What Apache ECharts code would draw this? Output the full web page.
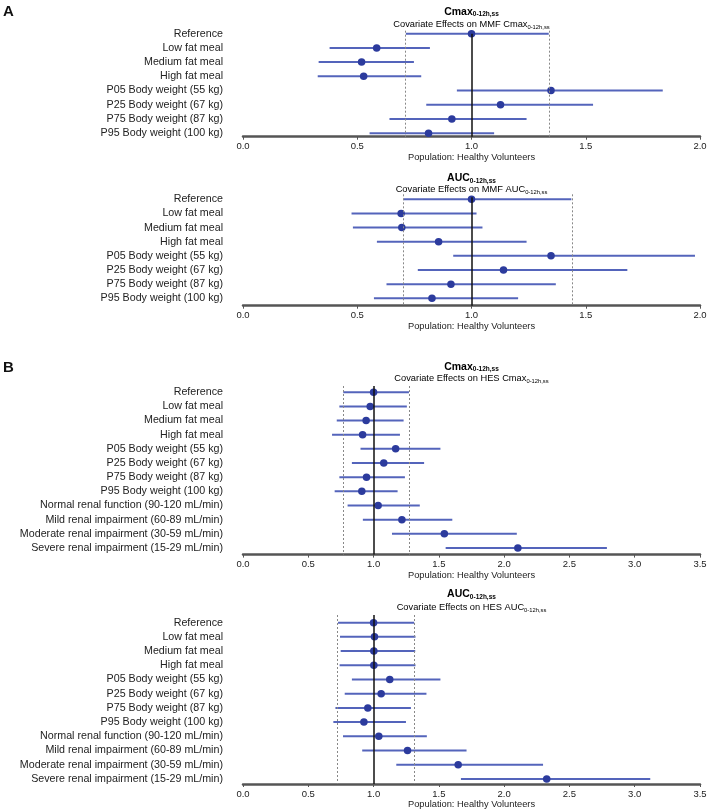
<!DOCTYPE html>
<html>
<head>
<meta charset="utf-8">
<script src="https://cdn.jsdelivr.net/npm/echarts@6/dist/echarts.min.js"></script>
<style>
  html, body { margin: 0; padding: 0; background: #fff; }
  #chart { width: 709px; height: 811px; }
</style>
</head>
<body>
<div id="chart"></div>
<script>
// row labels
const foodWeightLabels = ['Reference', 'Low fat meal', 'Medium fat meal', 'High fat meal',
  'P05 Body weight (55 kg)', 'P25 Body weight (67 kg)', 'P75 Body weight (87 kg)', 'P95 Body weight (100 kg)'];
const renalLabels = ['Normal renal function (90-120 mL/min)', 'Mild renal impairment (60-89 mL/min)',
  'Moderate renal impairment (30-59 mL/min)', 'Severe renal impairment (15-29 mL/min)'];
const hesLabels = foodWeightLabels.concat(renalLabels);

// tick labels
const xTicksA = [0, 0.5, 1, 1.5, 2];
const xTicksB = [0, 0.5, 1, 1.5, 2, 2.5, 3, 3.5];

// MMF Cmax
const mmfCmaxPt = [1.0, 0.585, 0.519, 0.528, 1.348, 1.127, 0.914, 0.812];
const mmfCmaxLo = [0.713, 0.379, 0.331, 0.327, 0.936, 0.802, 0.641, 0.554];
const mmfCmaxHi = [1.338, 0.818, 0.748, 0.780, 1.837, 1.532, 1.241, 1.099];
const mmfCmaxBand = [0.713, 1.338];

// MMF AUC
const mmfAucPt = [1.0, 0.692, 0.695, 0.856, 1.348, 1.140, 0.910, 0.827];
const mmfAucLo = [0.703, 0.475, 0.481, 0.586, 0.920, 0.765, 0.628, 0.573];
const mmfAucHi = [1.437, 1.022, 1.048, 1.241, 1.978, 1.682, 1.369, 1.204];
const mmfAucBand = [0.701, 1.437];

// HES Cmax
const hesCmaxPt = [1.0, 0.974, 0.943, 0.916, 1.169, 1.078, 0.946, 0.910, 1.035, 1.217, 1.542, 2.105];
const hesCmaxLo = [0.768, 0.738, 0.718, 0.682, 0.900, 0.834, 0.738, 0.702, 0.801, 0.918, 1.141, 1.552];
const hesCmaxHi = [1.271, 1.255, 1.230, 1.202, 1.512, 1.387, 1.240, 1.184, 1.354, 1.603, 2.097, 2.787];
const hesCmaxBand = [0.768, 1.271];

// HES AUC
const hesAucPt = [1.0, 1.007, 1.002, 1.002, 1.124, 1.058, 0.956, 0.926, 1.040, 1.260, 1.648, 2.326];
const hesAucLo = [0.728, 0.743, 0.748, 0.740, 0.834, 0.779, 0.708, 0.692, 0.766, 0.913, 1.174, 1.669];
const hesAucHi = [1.311, 1.321, 1.319, 1.321, 1.512, 1.405, 1.286, 1.248, 1.408, 1.712, 2.298, 3.119];
const hesAucBand = [0.723, 1.311];

const FONT = '"Liberation Sans", Arial, Helvetica, sans-serif';
const BLUE_LINE = '#5464bb';
const BLUE_DOT = '#2c3b9d';

// panel layout: top of grid, height, y range, title positions
const panels = [
  { labels: foodWeightLabels, pt: mmfCmaxPt, lo: mmfCmaxLo, hi: mmfCmaxHi, band: mmfCmaxBand, ticks: xTicksA,
    main: 'Cmax', sub: 'MMF Cmax', top: 30.7, height: 106, ymin: -0.21, ymax: 7.25, titleY: 11.7, subY: 24.3, solidFrom: 0 },
  { labels: foodWeightLabels, pt: mmfAucPt, lo: mmfAucLo, hi: mmfAucHi, band: mmfAucBand, ticks: xTicksA,
    main: 'AUC', sub: 'MMF AUC', top: 194.3, height: 111.4, ymin: -0.35, ymax: 7.52, titleY: 178.3, subY: 189.5, solidFrom: -0.15 },
  { labels: hesLabels, pt: hesCmaxPt, lo: hesCmaxLo, hi: hesCmaxHi, band: hesCmaxBand, ticks: xTicksB,
    main: 'Cmax', sub: 'HES Cmax', top: 386, height: 168.6, ymin: -0.44, ymax: 11.47, titleY: 366.7, subY: 378.3, solidFrom: -0.44 },
  { labels: hesLabels, pt: hesAucPt, lo: hesAucLo, hi: hesAucHi, band: hesAucBand, ticks: xTicksB,
    main: 'AUC', sub: 'HES AUC', top: 615, height: 169, ymin: -0.54, ymax: 11.36, titleY: 594.3, subY: 607.7, solidFrom: -0.54 }
];

const GRID_LEFT = 243;
const GRID_WIDTH = 457;
const CENTER_X = GRID_LEFT + GRID_WIDTH / 2;

let grids = [], xAxes = [], yAxes = [], series = [], graphics = [];

panels.forEach((p, k) => {
  grids.push({ left: GRID_LEFT, width: GRID_WIDTH, top: p.top, height: p.height,
    containLabel: false, outerBoundsMode: 'none' });
  let xmax = p.ticks[p.ticks.length - 1];
  xAxes.push({
    type: 'value', gridIndex: k, min: 0, max: xmax, interval: 0.5,
    splitLine: { show: false },
    axisLine: { onZero: false, lineStyle: { color: '#555', width: 2.5 } },
    axisTick: { show: true, length: 3, customValues: p.ticks, lineStyle: { color: '#555', width: 1 } },
    axisLabel: { customValues: p.ticks, margin: 5, fontFamily: FONT, fontSize: 9.5, color: '#222',
      formatter: v => Number(v).toFixed(1) },
    name: 'Population: Healthy Volunteers', nameLocation: 'middle', nameGap: 15.5,
    nameTextStyle: { fontFamily: FONT, fontSize: 9.3, color: '#222' }
  });
  yAxes.push({
    type: 'value', gridIndex: k, inverse: true, min: p.ymin, max: p.ymax,
    splitLine: { show: false },
    axisLine: { show: false, onZero: false },
    axisTick: { show: false },
    axisLabel: { customValues: p.labels.map((_, i) => i), margin: 20, fontFamily: FONT, fontSize: 10.7, color: '#222',
      formatter: v => p.labels[Math.round(v)] }
  });

  // confidence intervals + dashed reference band
  series.push({
    type: 'custom', xAxisIndex: k, yAxisIndex: k, z: 2,
    data: p.lo.map((lo, i) => [lo, p.hi[i], i]),
    encode: { x: [0, 1], y: 2 },
    renderItem: (params, api) => {
      let a = api.coord([api.value(0), api.value(2)]);
      let b = api.coord([api.value(1), api.value(2)]);
      return { type: 'line', shape: { x1: a[0], y1: a[1], x2: b[0], y2: b[1] },
        style: { stroke: BLUE_LINE, lineWidth: 2 } };
    },
    markLine: {
      silent: true, symbol: 'none', label: { show: false },
      lineStyle: { color: '#888', width: 1, type: [2, 2] },
      data: p.band.map(v => ({ xAxis: v }))
    }
  });
  // solid no-effect line
  series.push({
    type: 'line', xAxisIndex: k, yAxisIndex: k, z: 3, data: [],
    markLine: {
      silent: true, symbol: 'none', label: { show: false },
      lineStyle: { color: '#111', width: 1.5, type: 'solid' },
      data: [[{ coord: [1, p.solidFrom] }, { coord: [1, p.ymax] }]]
    }
  });
  // point estimates
  series.push({
    type: 'scatter', xAxisIndex: k, yAxisIndex: k, z: 4,
    symbolSize: 7.5, itemStyle: { color: BLUE_DOT, opacity: 1 },
    data: p.pt.map((v, i) => [v, i])
  });

  graphics.push({
    type: 'text', x: CENTER_X, y: p.titleY,
    style: {
      text: '{m|' + p.main + '}{s|0-12h,ss}', align: 'center', verticalAlign: 'middle',
      rich: {
        m: { fontFamily: FONT, fontSize: 10.5, fontWeight: 'bold', color: '#111', lineHeight: 13, verticalAlign: 'middle' },
        s: { fontFamily: FONT, fontSize: 6.5, fontWeight: 'bold', color: '#111', lineHeight: 7, verticalAlign: 'bottom' }
      }
    }
  });
  graphics.push({
    type: 'text', x: CENTER_X, y: p.subY,
    style: {
      text: '{m|Covariate Effects on ' + p.sub + '}{s|0-12h,ss}', align: 'center', verticalAlign: 'middle',
      rich: {
        m: { fontFamily: FONT, fontSize: 9.3, color: '#222', lineHeight: 12, verticalAlign: 'middle' },
        s: { fontFamily: FONT, fontSize: 5.8, color: '#222', lineHeight: 6, verticalAlign: 'bottom' }
      }
    }
  });
});

graphics.push({ type: 'text', x: 3, y: 4, style: { text: 'A', fontFamily: FONT, fontSize: 15, fontWeight: 'bold', fill: '#111' } });
graphics.push({ type: 'text', x: 3, y: 360, style: { text: 'B', fontFamily: FONT, fontSize: 15, fontWeight: 'bold', fill: '#111' } });

let chart = echarts.init(document.getElementById('chart'));
chart.setOption({
  animation: false,
  backgroundColor: '#fff',
  grid: grids,
  xAxis: xAxes,
  yAxis: yAxes,
  series: series,
  graphic: graphics
});
</script>
</body>
</html>
